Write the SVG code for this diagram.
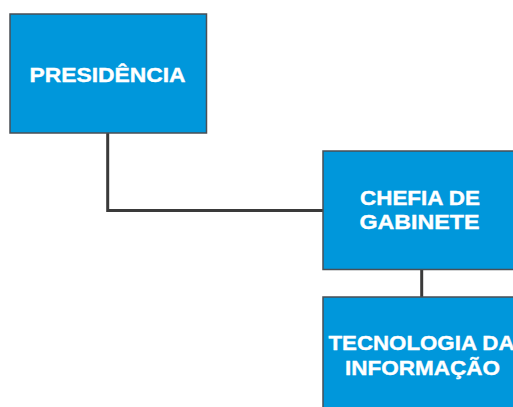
<svg xmlns="http://www.w3.org/2000/svg" width="513" height="407" viewBox="0 0 513 407">
<style>
.box{fill:#0097db;stroke:#4a4f55;stroke-width:1.5}
.t{fill:#fff;stroke:#fff;stroke-width:0.4;font-family:"Liberation Sans",Arial,sans-serif;font-weight:700;font-size:20.5px;text-anchor:middle}
.c{fill:none;stroke:#3a3a3a;stroke-width:3}
</style>
<rect width="513" height="407" fill="#fff"/>
<g id="connectors">
<path class="c" d="M107.7 133 V210.5 H323"/>
<path class="c" d="M421.7 269.5 V297"/>
</g>
<g id="presidencia">
<rect class="box" x="10" y="14" width="196.5" height="119"/>
<text class="t" x="107.5" y="82.3" textLength="156" lengthAdjust="spacingAndGlyphs">PRESIDÊNCIA</text>
</g>
<g id="chefia">
<rect class="box" x="323" y="151" width="197" height="118.5"/>
<text class="t" x="420" y="205" textLength="120" lengthAdjust="spacingAndGlyphs">CHEFIA DE</text>
<text class="t" x="419.5" y="229" textLength="120" lengthAdjust="spacingAndGlyphs">GABINETE</text>
</g>
<g id="ti">
<rect class="box" x="323" y="297" width="197" height="120"/>
<text class="t" x="421.5" y="350" textLength="186" lengthAdjust="spacingAndGlyphs">TECNOLOGIA DA</text>
<text class="t" x="422.5" y="375" textLength="155" lengthAdjust="spacingAndGlyphs">INFORMAÇÃO</text>
</g>
</svg>
